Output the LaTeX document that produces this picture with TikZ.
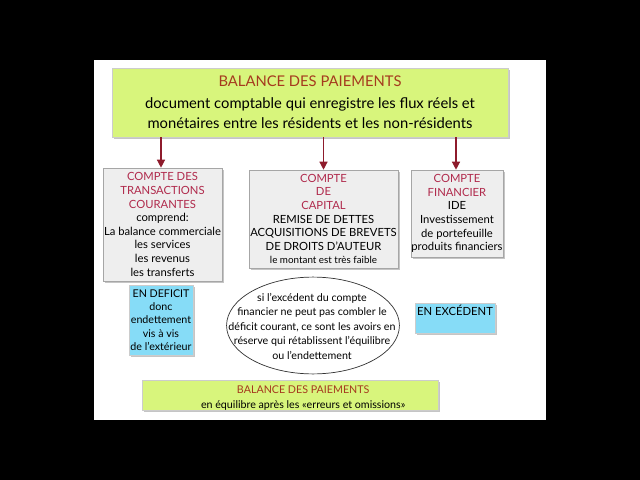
\documentclass[tikz,border=0pt]{standalone}
\usepackage{fontspec}
\setmainfont{Lato}
\usetikzlibrary{arrows.meta,shadows}
\definecolor{slidegreen}{HTML}{D8F57C}
\definecolor{titlered}{HTML}{A53A1E}
\definecolor{headred}{HTML}{B02A4C}
\definecolor{arrowred}{HTML}{8E1B2C}
\definecolor{boxgray}{HTML}{EEEEEE}
\definecolor{cyanbox}{HTML}{86DCF7}

\begin{document}
\begin{tikzpicture}[
  x=0.025cm, y=-0.025cm,
  shade/.style={drop shadow={shadow xshift=1.5pt, shadow yshift=-1.5pt, opacity=0.45}},
  greenbox/.style={shade, fill=slidegreen, draw=gray!40, line width=0.3pt, align=center,
    inner sep=0pt},
  graybox/.style={shade, fill=boxgray, draw=gray!70, line width=0.4pt, align=center,
    inner sep=0pt, font=\fontsize{8}{9.7}\selectfont},
  cyanbox/.style={shade, fill=cyanbox, draw=gray!40, line width=0.3pt, align=center,
    inner sep=0pt, font=\fontsize{7.6}{9.5}\selectfont},
  flow/.style={-{Triangle[length=2mm, width=2mm]}, draw=arrowred, line width=0.9pt}
]
% slide
\fill[black] (0,0) rectangle (640,480);
\fill[white] (94,60) rectangle (546,420);

\node[greenbox, minimum width=9.9cm, minimum height=1.73cm, font=\fontsize{10.5}{14.5}\selectfont]
  (bdp) at (310,102.5) {\textcolor{titlered}{BALANCE DES PAIEMENTS}\\[1pt]
  document comptable qui enregistre les flux réels et\\
  monétaires entre les résidents et les non-résidents};

\node[graybox, minimum width=2.975cm, minimum height=2.825cm] (courant) at (162.5,224.5)
  {\textcolor{headred}{COMPTE DES}\\\textcolor{headred}{TRANSACTIONS}\\\textcolor{headred}{COURANTES}\\
  comprend:\\La balance commerciale\\les services\\les revenus\\les transferts};
\node[graybox, minimum width=3.725cm, minimum height=2.45cm] (capital) at (323.5,219)
  {\textcolor{headred}{COMPTE}\\\textcolor{headred}{DE}\\\textcolor{headred}{CAPITAL}\\
  REMISE DE DETTES\\ACQUISITIONS DE BREVETS\\DE DROITS D'AUTEUR\\
  {\fontsize{7}{9.7}\selectfont le montant est très faible}};
\node[graybox, minimum width=2.3cm, minimum height=2.175cm] (financier) at (457,213.5)
  {\textcolor{headred}{COMPTE}\\\textcolor{headred}{FINANCIER}\\IDE\\
  Investissement\\de portefeuille\\produits financiers};

\node[cyanbox, minimum width=1.6cm, minimum height=1.75cm] (deficit) at (161,320)
  {EN DEFICIT\\donc\\endettement\\vis à vis\\de l'extérieur};

% ellipse drawn round its text
\node[inner sep=0pt, align=center, font=\fontsize{7.6}{10.3}\selectfont] (reserve) at (312,326)
  {si l'excédent du compte\\financier ne peut pas combler le\\déficit courant, ce sont les avoirs en\\
  réserve qui rétablissent l'équilibre\\ou l'endettement};
\draw[line width=0.5pt, draw=black!80] (313,325.5) ellipse [x radius=2.16cm, y radius=1.21cm];

\node[cyanbox, minimum width=2cm, minimum height=0.75cm, text depth=0.38cm,
  font=\fontsize{8}{9.5}\selectfont] (excedent) at (455,318) {EN EXCÉDENT};

\node[greenbox, minimum width=7.4cm, minimum height=0.75cm] (equilibre) at (290,395) {};
\node[align=center, inner sep=0pt, font=\fontsize{7.6}{10.5}\selectfont] (equilibretxt)
  at ([xshift=0.33cm, yshift=-0.07cm]equilibre) {\textcolor{titlered}{BALANCE DES PAIEMENTS}\\
  en équilibre après les «erreurs et omissions»};

\draw[flow] (bdp.south -| 161,0) -- (courant.north -| 161,0);
\draw[flow] (bdp.south -| capital) -- (capital.north);
\draw[flow] (bdp.south -| 456,0) -- (financier.north -| 456,0);
\end{tikzpicture}
\end{document}
